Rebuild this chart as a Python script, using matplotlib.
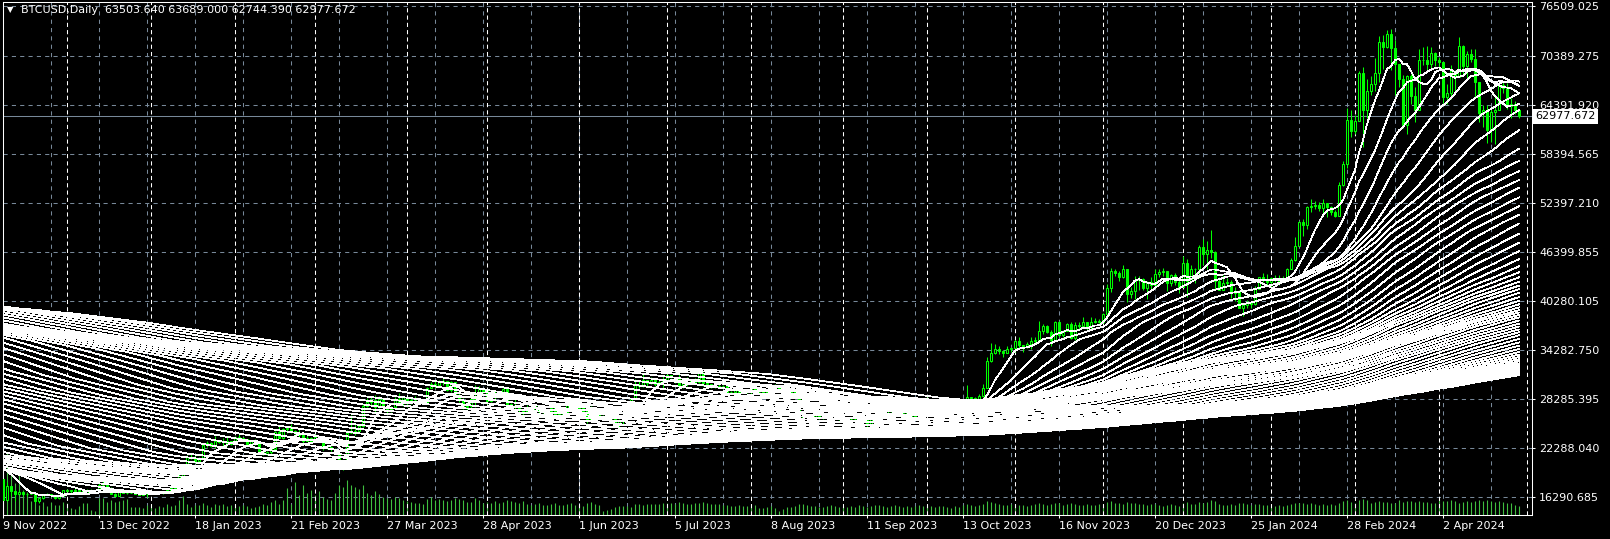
import numpy as np
import pandas as pd
import matplotlib
matplotlib.use('Agg')
import matplotlib.pyplot as plt
from matplotlib.ticker import MultipleLocator
from matplotlib.transforms import blended_transform_factory

# daily bars (weekdays only), prices in thousand USD, one row per month
close_k = [
    15.9, 17.6, 17.0, 16.6, 16.9, 16.6, 16.7, 16.7, 15.8, 16.2, 16.6, 16.6, 16.5, 16.2, 16.4, 17.2,
    17.0, 17.1, 17.0, 17.1, 16.8, 17.2, 17.1, 17.2, 17.8, 17.8, 17.4, 16.6, 16.4, 16.9, 16.8, 16.8, 16.8, 16.7, 16.5, 16.6, 16.6,
    16.7, 16.9, 16.8, 16.9, 17.2, 17.4, 17.9, 18.9, 19.9, 21.2, 21.1, 20.7, 21.1, 22.7, 22.9, 22.6, 23.1, 23.0, 23.1, 22.8, 23.1,
    23.7, 23.5, 23.4, 22.8, 23.2, 22.9, 21.8, 21.6, 21.8, 22.2, 24.3, 23.5, 24.6, 24.8, 24.4, 24.2, 23.9, 23.2, 23.5, 23.1,
    23.6, 23.5, 22.4, 22.4, 22.2, 21.7, 20.4, 20.2, 24.1, 24.2, 24.4, 25.0, 27.4, 28.0, 28.2, 27.3, 28.3, 27.5, 27.1, 27.3, 28.3, 28.0, 28.5,
    27.8, 28.2, 28.2, 28.0, 27.9, 29.7, 30.2, 30.0, 30.4, 30.5, 29.4, 30.4, 28.8, 28.2, 27.3, 27.5, 28.3, 28.4, 29.5, 29.3,
    28.1, 28.7, 29.0, 28.8, 29.5, 27.7, 27.6, 27.6, 27.0, 26.8, 27.2, 27.0, 27.4, 26.8, 26.9, 26.8, 27.2, 26.3, 26.5, 26.7, 27.7, 27.7, 27.2,
    26.8, 27.2, 25.7, 27.2, 26.3, 26.5, 26.5, 25.9, 25.9, 25.1, 25.6, 26.3, 26.8, 28.3, 30.0, 29.9, 30.7, 30.3, 30.7, 30.1, 30.4, 30.5,
    31.2, 31.0, 30.8, 29.9, 30.3, 30.4, 30.6, 30.4, 31.5, 30.3, 30.1, 29.9, 29.8, 29.9, 29.9, 29.2, 29.2, 29.4, 29.2, 29.3, 29.2,
    29.7, 29.2, 29.2, 29.1, 29.2, 29.8, 29.6, 29.4, 29.4, 29.4, 29.2, 28.7, 26.6, 26.1, 26.1, 25.9, 26.4, 26.1, 26.1, 26.1, 27.7, 27.3, 25.9,
    25.8, 25.8, 25.8, 25.8, 26.2, 25.9, 25.2, 25.8, 26.2, 26.5, 26.6, 26.8, 27.2, 27.1, 26.6, 26.6, 26.3, 26.2, 26.4, 27.0, 26.9,
    27.5, 27.4, 27.8, 27.4, 27.9, 27.6, 27.4, 26.9, 26.8, 26.9, 28.5, 28.4, 28.3, 28.7, 29.7, 33.0, 33.9, 34.5, 34.2, 33.9, 34.5, 34.6,
    35.4, 34.9, 34.7, 35.0, 35.4, 35.6, 36.7, 37.3, 36.5, 35.5, 37.8, 36.2, 36.6, 37.5, 35.8, 37.4, 37.3, 37.7, 37.2, 37.8, 37.9, 37.7,
    38.7, 41.9, 44.0, 43.8, 43.3, 44.2, 41.2, 41.5, 42.9, 43.0, 41.9, 42.7, 42.3, 43.7, 43.9, 44.0, 42.5, 43.5, 42.6, 42.1,
    45.0, 42.8, 44.2, 44.2, 47.0, 46.1, 46.6, 46.3, 42.8, 41.7, 42.5, 42.7, 41.3, 41.6, 39.5, 39.8, 40.1, 39.9, 41.8, 43.3, 42.9, 42.6,
    43.1, 43.2, 42.6, 43.1, 44.3, 45.3, 47.1, 50.0, 49.7, 51.8, 52.0, 52.1, 51.7, 52.3, 51.8, 51.3, 50.7, 54.5, 57.1, 62.5, 61.2,
    62.4, 68.3, 63.8, 66.1, 66.9, 68.3, 72.1, 71.5, 73.1, 71.4, 69.4, 67.6, 61.9, 67.9, 65.5, 63.8, 69.9, 69.9, 69.4, 70.7, 69.9,
    69.7, 65.4, 65.9, 68.5, 67.8, 71.6, 69.1, 70.6, 70.0, 67.2, 63.4, 63.8, 61.3, 63.5, 63.8, 66.8, 66.4, 64.3, 64.5, 63.8, 62.978,
]
high_k = [
    18.6, 18.1, 17.6, 17.1, 17.1, 17.0, 16.8, 17.0, 16.3, 16.3, 16.7, 16.8, 16.6, 16.5, 16.5, 17.2,
    17.3, 17.1, 17.4, 17.1, 17.1, 17.3, 17.3, 17.2, 18.0, 18.4, 17.8, 17.5, 16.8, 17.0, 16.9, 16.9, 16.9, 16.9, 16.8, 16.6, 16.6,
    16.8, 17.0, 16.9, 17.0, 17.4, 17.5, 18.0, 19.1, 20.0, 21.4, 21.6, 21.6, 21.2, 22.8, 23.1, 23.0, 23.8, 23.3, 23.5, 23.8, 23.2,
    23.8, 24.2, 23.6, 23.1, 23.3, 23.4, 22.9, 21.9, 21.9, 22.3, 24.4, 25.0, 24.8, 25.0, 25.2, 24.5, 24.6, 24.0, 23.9, 23.6,
    24.0, 23.8, 23.5, 22.6, 22.5, 22.3, 21.8, 20.4, 24.5, 26.4, 25.2, 25.2, 27.7, 28.4, 28.5, 28.8, 28.7, 28.4, 27.5, 27.5, 28.6, 29.1, 28.6,
    28.4, 28.4, 28.7, 28.2, 28.1, 29.8, 30.4, 30.5, 30.6, 31.0, 30.3, 30.5, 30.4, 29.1, 28.4, 27.9, 28.4, 30.0, 29.9, 29.6,
    29.3, 28.9, 29.3, 29.3, 29.7, 28.6, 27.8, 28.3, 27.6, 27.0, 27.6, 27.3, 27.5, 27.5, 27.0, 27.0, 27.5, 27.2, 26.6, 26.9, 28.4, 28.0, 27.8,
    27.3, 27.3, 27.0, 27.4, 27.2, 26.8, 26.8, 26.1, 26.4, 26.1, 25.8, 26.5, 27.0, 28.4, 30.8, 30.5, 31.4, 30.6, 31.0, 30.7, 30.8, 31.3,
    31.4, 31.3, 31.0, 31.4, 30.4, 31.0, 30.8, 30.9, 31.8, 31.6, 30.3, 30.2, 30.2, 30.4, 30.0, 29.4, 29.3, 29.7, 29.6, 29.5, 29.5,
    29.7, 30.0, 29.4, 29.3, 29.2, 30.2, 30.1, 29.7, 29.5, 29.7, 29.4, 29.2, 28.8, 26.8, 26.2, 26.1, 26.8, 26.5, 26.3, 26.2, 28.1, 27.8, 27.5,
    26.1, 26.0, 25.9, 26.0, 26.4, 26.4, 25.9, 26.5, 26.4, 26.8, 26.8, 27.4, 27.5, 27.4, 27.2, 26.7, 26.4, 26.3, 26.8, 27.3, 27.2,
    28.5, 27.7, 27.8, 28.1, 28.2, 27.9, 27.7, 27.5, 26.9, 27.0, 30.0, 28.6, 28.5, 28.9, 30.2, 33.4, 35.2, 35.0, 34.8, 34.3, 34.8, 34.7,
    35.6, 35.9, 34.9, 35.3, 35.9, 35.9, 37.9, 37.5, 37.4, 36.8, 37.9, 37.9, 36.8, 37.6, 37.8, 37.8, 37.7, 38.4, 37.6, 38.4, 38.2, 38.1,
    38.9, 42.4, 44.4, 44.3, 44.0, 44.7, 43.8, 42.1, 43.4, 43.4, 43.1, 42.8, 43.3, 44.2, 44.3, 44.4, 43.6, 43.7, 43.8, 43.1,
    45.9, 45.5, 44.8, 44.4, 47.2, 47.9, 47.7, 49.0, 46.5, 43.3, 43.5, 43.2, 42.9, 42.0, 41.7, 40.0, 40.5, 40.3, 42.2, 43.3, 43.8, 43.7,
    43.3, 43.5, 43.5, 43.4, 44.4, 45.6, 48.2, 50.2, 50.4, 52.0, 52.8, 52.6, 52.5, 52.9, 52.4, 52.0, 51.5, 54.9, 57.5, 64.0, 63.7,
    63.2, 68.5, 69.0, 67.6, 67.9, 70.1, 72.8, 72.9, 73.6, 73.7, 72.4, 68.9, 68.1, 68.0, 68.2, 66.6, 71.2, 71.5, 71.6, 71.5, 70.9,
    70.3, 69.6, 66.9, 69.3, 68.7, 72.7, 71.7, 71.0, 71.2, 71.2, 66.9, 64.4, 64.4, 64.0, 65.4, 67.2, 67.2, 67.1, 65.2, 64.8, 63.689,
]
low_k = [
    15.6, 15.8, 16.4, 15.8, 16.5, 16.4, 16.4, 16.6, 15.5, 15.6, 16.1, 16.5, 16.3, 16.0, 16.1, 16.4,
    16.9, 16.8, 16.9, 16.9, 16.7, 16.8, 17.1, 16.9, 17.1, 17.7, 17.3, 16.6, 16.3, 16.4, 16.8, 16.6, 16.8, 16.6, 16.5, 16.5, 16.3,
    16.6, 16.7, 16.8, 16.7, 16.9, 17.1, 17.3, 17.9, 18.7, 20.6, 20.9, 20.4, 20.7, 20.9, 22.4, 22.4, 22.3, 22.9, 22.6, 22.6, 22.7,
    22.8, 23.4, 23.2, 22.6, 22.7, 22.7, 21.7, 21.5, 21.4, 21.5, 22.1, 23.5, 23.4, 24.2, 24.2, 23.6, 23.6, 22.9, 23.1, 23.0,
    23.0, 23.2, 22.0, 22.2, 21.9, 21.6, 20.1, 19.6, 21.9, 24.1, 23.9, 24.2, 24.9, 27.3, 27.4, 26.7, 27.2, 27.2, 26.6, 26.7, 27.3, 27.7, 27.5,
    27.3, 27.7, 28.0, 27.8, 27.8, 28.3, 29.6, 29.7, 29.9, 30.0, 29.3, 29.2, 28.6, 28.0, 27.1, 27.0, 27.2, 27.3, 28.4, 29.0,
    27.7, 27.9, 28.1, 28.7, 28.9, 27.3, 27.4, 26.8, 26.7, 25.8, 26.8, 26.9, 26.6, 26.4, 26.6, 26.6, 26.8, 26.1, 26.0, 26.4, 27.6, 27.6, 26.9,
    26.6, 26.6, 25.4, 25.5, 26.1, 26.2, 26.3, 25.7, 25.8, 24.9, 24.8, 25.2, 26.3, 26.7, 28.3, 29.6, 29.8, 29.9, 30.2, 29.9, 30.0, 29.5,
    30.6, 30.9, 30.3, 29.8, 29.7, 29.9, 30.3, 30.2, 30.3, 29.9, 29.7, 29.6, 29.7, 29.6, 29.8, 28.9, 29.0, 29.1, 29.1, 29.1, 29.0,
    28.6, 29.1, 29.1, 28.9, 28.7, 29.1, 29.4, 29.3, 29.3, 29.1, 29.1, 28.7, 25.4, 25.8, 25.8, 25.4, 25.8, 25.9, 25.8, 25.9, 26.0, 27.1, 25.7,
    25.3, 25.6, 25.4, 25.4, 25.6, 25.7, 24.9, 25.2, 25.8, 26.1, 26.2, 26.4, 26.7, 26.9, 26.4, 26.5, 26.0, 26.0, 26.1, 26.3, 26.7,
    27.3, 27.2, 27.2, 27.4, 27.2, 27.3, 27.3, 26.6, 26.6, 26.6, 27.1, 28.1, 28.1, 28.2, 28.6, 29.9, 32.9, 33.8, 33.8, 33.4, 34.0, 34.1,
    34.1, 34.4, 34.1, 34.6, 34.5, 35.1, 35.6, 36.3, 36.4, 34.8, 35.4, 35.9, 35.9, 36.7, 35.7, 35.6, 36.9, 37.3, 36.7, 36.9, 37.6, 37.6,
    37.6, 39.9, 41.4, 43.4, 42.8, 43.1, 40.2, 40.7, 40.6, 41.7, 41.7, 40.6, 41.8, 42.2, 43.3, 43.4, 41.6, 42.2, 42.3, 41.3,
    44.2, 40.8, 42.6, 42.5, 43.2, 44.8, 44.3, 45.6, 41.8, 41.7, 42.0, 42.2, 40.7, 40.3, 39.5, 38.5, 39.5, 39.5, 39.8, 41.8, 42.7, 42.3,
    41.9, 42.6, 42.3, 42.6, 42.8, 44.3, 45.2, 47.7, 48.3, 49.2, 51.3, 51.6, 51.4, 50.7, 50.6, 50.9, 50.6, 50.9, 54.4, 56.7, 60.4,
    60.8, 62.4, 59.2, 62.8, 65.6, 66.1, 67.2, 68.8, 71.3, 68.6, 65.6, 66.6, 61.6, 60.8, 64.5, 62.3, 66.6, 69.3, 68.4, 68.9, 69.1,
    68.9, 64.6, 64.5, 65.1, 66.1, 69.4, 68.2, 67.5, 69.6, 65.3, 62.3, 61.7, 59.7, 59.8, 59.6, 64.5, 65.9, 63.9, 62.8, 63.3, 62.744,
]
first_open_k = 18.5

tick_volume = [
    38, 63, 43, 32, 42, 25, 23, 14, 18, 10, 13, 9, 13, 10, 10, 13,
    12, 7, 6, 9, 12, 12, 5, 4, 17, 17, 13, 15, 13, 14, 15, 16, 8, 8, 8, 7, 10,
    10, 7, 9, 8, 11, 9, 10, 15, 19, 11, 8, 10, 10, 12, 10, 8, 11, 10, 11, 9, 10,
    11, 9, 10, 9, 7, 8, 9, 11, 10, 13, 15, 11, 15, 27, 11, 33, 20, 30, 22, 25,
    20, 24, 18, 16, 15, 22, 30, 28, 35, 30, 28, 26, 30, 22, 20, 24, 21, 18, 17, 16, 18, 17, 15,
    14, 13, 12, 12, 11, 16, 18, 15, 16, 15, 14, 15, 17, 16, 15, 13, 13, 17, 15, 12,
    13, 12, 14, 12, 13, 15, 14, 13, 12, 14, 11, 10, 11, 12, 10, 10, 11, 12, 10, 10, 11, 12, 10,
    10, 9, 12, 13, 11, 10, 4, 5, 6, 8, 9, 9, 9, 8, 11, 11, 10, 11, 11, 11, 11, 12,
    12, 12, 11, 13, 12, 11, 11, 12, 12, 13, 12, 11, 11, 11, 10, 10, 9, 9, 10, 9, 9,
    10, 10, 7, 7, 8, 9, 7, 4, 6, 8, 8, 9, 11, 11, 10, 9, 9, 8, 8, 9, 10, 9, 8,
    9, 8, 9, 8, 10, 9, 8, 9, 10, 10, 9, 8, 9, 10, 9, 8, 9, 8, 9, 10, 9,
    10, 9, 8, 9, 9, 8, 7, 9, 8, 10, 11, 10, 9, 10, 11, 14, 13, 12, 11, 10, 10, 11,
    11, 10, 10, 9, 10, 11, 12, 11, 10, 11, 12, 12, 10, 11, 12, 11, 10, 10, 11, 10, 10, 11,
    11, 13, 14, 12, 12, 11, 13, 12, 12, 11, 11, 10, 11, 11, 10, 9, 10, 11, 10, 9,
    12, 13, 11, 11, 13, 12, 13, 15, 14, 11, 10, 10, 11, 10, 12, 12, 11, 10, 11, 11, 10, 10,
    10, 9, 10, 9, 10, 11, 12, 12, 12, 11, 12, 11, 10, 11, 10, 11, 10, 12, 14, 15, 13,
    12, 15, 16, 15, 12, 13, 14, 13, 13, 12, 12, 15, 13, 14, 14, 13, 14, 13, 13, 12, 12,
    15, 14, 14, 15, 14, 12, 13, 14, 13, 14, 15, 14, 15, 14, 13, 14, 13, 12, 12, 10, 9,
]

# monthly average price before the first bar (needed by the long moving averages)
hist_first_month = '2020-10'
hist_avg_k = [11.9, 16.6, 21.9,
              34.7, 46.3, 54.6, 57.2, 46.4, 35.8, 34.4, 45.7, 45.9, 57.9, 60.6, 49.3,
              41.1, 40.6, 41.9, 41.5, 31.7, 24.4, 21.5, 22.6, 19.8, 19.6, 20.4]

ma_periods = list(range(8, 488, 8))

date_labels = ['9 Nov 2022', '13 Dec 2022', '18 Jan 2023', '21 Feb 2023', '27 Mar 2023',
               '28 Apr 2023', '1 Jun 2023', '5 Jul 2023', '8 Aug 2023', '11 Sep 2023',
               '13 Oct 2023', '16 Nov 2023', '20 Dec 2023', '25 Jan 2024', '28 Feb 2024',
               '2 Apr 2024']
price_ticks = [76509.025, 70389.275, 64391.920, 58394.565, 52397.210, 46399.855,
               40280.105, 34282.750, 28285.395, 22288.040, 16290.685]
closed_days = ['2022-12-26', '2023-01-02', '2023-12-25', '2024-01-01']
header = 'BTCUSD,Daily  63503.640 63689.000 62744.390 62977.672'
last_price = 62977.672

GRID = '#778899'
LIME = '#00ff00'
VOLC = '#3fbf3f'

close = np.array(close_k) * 1000
high = np.array(high_k) * 1000
low = np.array(low_k) * 1000
opn = np.r_[first_open_k * 1000, close[:-1]]
high = np.maximum(high, np.maximum(opn, close))
low = np.minimum(low, np.minimum(opn, close))
n = len(close)
x = np.arange(n)

days = pd.bdate_range('2022-11-09', periods=n + 20)
days = days[~days.isin(pd.to_datetime(closed_days))][:n + 3]
month_start = [i for i in range(1, len(days)) if days[i].month != days[i - 1].month]

hist_days = pd.bdate_range(hist_first_month + '-01', '2022-11-08')
months = pd.period_range(hist_first_month, periods=len(hist_avg_k), freq='M').strftime('%Y-%m')
hist = pd.Series(hist_days.strftime('%Y-%m')).map(dict(zip(months, hist_avg_k))).to_numpy() * 1000
full = pd.Series(np.r_[hist, close])

W, H = 1610, 539
fig = plt.figure(figsize=(W / 100, H / 100), dpi=100, facecolor='black')
ax = fig.add_axes([2.5 / W, (H - 515) / H, 1529.5 / W, 513.5 / H])
ax.set_facecolor('black')

step = 122.644
ax.set_ylim(price_ticks[0] - 509 * step, price_ticks[0] + 4.5 * step)
ax.set_xlim(-0.125, 382.25)

xt = blended_transform_factory(ax.transData, ax.transAxes)

# volumes along the bottom
vol = np.array(tick_volume, dtype=float)
ax.vlines(x, 0, vol / (vol.max() * 513 / 63), transform=xt, color=VOLC, lw=0.8, zorder=1)

# month separators
ax.vlines(month_start, 0, 1, transform=xt, color='white', lw=0.75,
          linestyle=(0, (4, 3)), zorder=1.5)
ax.axhline(last_price, color=GRID, lw=0.75, zorder=1.6)

# candles
bull = close >= opn
ax.vlines(x, low, high, color=LIME, lw=0.75, zorder=2)
ax.bar(x, np.abs(close - opn), bottom=np.minimum(opn, close), width=0.6,
       color=np.where(bull, 'black', LIME), edgecolor=LIME, linewidth=0.75, zorder=3)

# moving averages
for p in ma_periods:
    ma = full.rolling(p).mean().to_numpy()[-n:]
    ax.plot(x, ma, color='white', lw=0.55, antialiased=False, zorder=4)

ax.set_xticks(np.arange(len(date_labels)) * 24)
ax.set_xticklabels(date_labels, ha='left')
ax.xaxis.set_minor_locator(MultipleLocator(12))
ax.yaxis.tick_right()
ax.set_yticks(price_ticks)
ax.set_yticklabels(['%.3f' % v for v in price_ticks])
ax.tick_params(axis='x', which='major', colors='white', labelsize=8, length=2.5, width=0.75, pad=1.5)
ax.tick_params(axis='x', which='minor', length=0)
ax.tick_params(axis='y', colors='white', labelsize=8, length=2.5, width=0.75, pad=2.5)
ax.grid(True, which='both', axis='x', color=GRID, lw=0.75, linestyle=(0, (4, 4)))
ax.grid(True, axis='y', color=GRID, lw=0.75, linestyle=(0, (4, 4)))
ax.set_axisbelow(True)
for s in ax.spines.values():
    s.set_color('white')
    s.set_linewidth(0.75)

fig.text(7 / W, 1 - 10 / H, '\u25bc', color='white', fontsize=6, va='center')
fig.text(21 / W, 1 - 10 / H, header, color='white', fontsize=8, va='center')

yt = blended_transform_factory(ax.transAxes, ax.transData)
ax.text(1.0024, last_price, '%.3f' % last_price, transform=yt, color='black', fontsize=8,
        va='center', ha='left', clip_on=False, zorder=10,
        bbox=dict(boxstyle='square,pad=0.2', fc='white', ec='none'))

fig.savefig('out.png', dpi=100, facecolor='black')
